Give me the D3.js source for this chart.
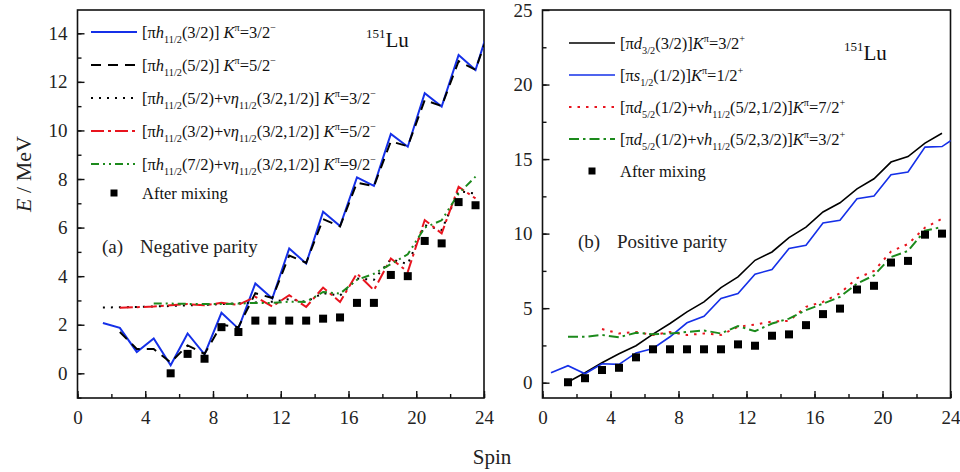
<!DOCTYPE html>
<html>
<head>
<meta charset="utf-8">
<script src="https://cdn.jsdelivr.net/npm/d3@7"></script>
<style>
  body { margin: 0; background: #fff; }
  svg text { font-family: "Liberation Serif", "Tinos", "Times New Roman", "DejaVu Serif", serif; }
</style>
</head>
<body>
<svg id="chart" width="960" height="472"></svg>
<script>
/* 151Lu band energies vs spin, two panels */

// ---- (a) negative parity ----
const negSpinBlue  = [1.5, 2.5, 3.5, 4.5, 5.5, 6.5, 7.5, 8.5, 9.5, 10.5, 11.5, 12.5, 13.5, 14.5, 15.5, 16.5, 17.5, 18.5, 19.5, 20.5, 21.5, 22.5, 23.5, 24.5];
const negBlue      = [2.07, 1.87, 0.88, 1.43, 0.33, 1.64, 0.78, 2.49, 1.84, 3.70, 3.08, 5.14, 4.52, 6.65, 6.06, 8.07, 7.72, 9.86, 9.33, 11.53, 10.98, 13.11, 12.49, 14.7];
const negSpinDash  = [2.5, 3.5, 4.5, 5.5, 6.5, 7.5, 8.5, 9.5, 10.5, 11.5, 12.5, 13.5, 14.5, 15.5, 16.5, 17.5, 18.5, 19.5, 20.5, 21.5, 22.5, 23.5, 24.5];
const negDash      = [1.7, 1.0, 1.0, 0.45, 1.15, 0.8, 2.0, 1.9, 3.3, 3.1, 4.85, 4.55, 6.35, 6.05, 7.85, 7.7, 9.55, 9.35, 11.25, 11.0, 12.85, 12.5, 14.5];
const negSpinDot   = [1.5, 2.5, 3.5, 4.5, 5.5, 6.5, 7.5, 8.5, 9.5, 10.5, 11.5, 12.5, 13.5, 14.5, 15.5, 16.5, 17.5, 18.5, 19.5, 20.5, 21.5, 22.5, 23.5];
const negDot       = [2.71, 2.72, 2.73, 2.75, 2.77, 2.8, 2.82, 2.85, 2.88, 2.92, 2.95, 3.05, 2.95, 3.3, 3.2, 3.9, 3.85, 4.7, 4.5, 6.1, 5.9, 7.5, 7.4];
const negSpinRed   = [2.5, 3.5, 4.5, 5.5, 6.5, 7.5, 8.5, 9.5, 10.5, 11.5, 12.5, 13.5, 14.5, 15.5, 16.5, 17.5, 18.5, 19.5, 20.5, 21.5, 22.5, 23.5];
const negRed       = [2.7, 2.72, 2.75, 2.8, 2.85, 2.8, 2.9, 2.82, 3.15, 2.75, 3.22, 2.73, 3.53, 2.94, 4.11, 3.42, 4.73, 4.18, 6.31, 5.76, 7.68, 7.2];
const negSpinGreen = [4.5, 5.5, 6.5, 7.5, 8.5, 9.5, 10.5, 11.5, 12.5, 13.5, 14.5, 15.5, 16.5, 17.5, 18.5, 19.5, 20.5, 21.5, 22.5, 23.5];
const negGreen     = [2.87, 2.87, 2.86, 2.85, 2.85, 2.87, 2.9, 2.9, 2.95, 2.94, 3.35, 3.28, 3.85, 4.1, 4.5, 4.9, 6.0, 6.3, 7.4, 8.1];
const negSpinMix   = [5.5, 6.5, 7.5, 8.5, 9.5, 10.5, 11.5, 12.5, 13.5, 14.5, 15.5, 16.5, 17.5, 18.5, 19.5, 20.5, 21.5, 22.5, 23.5];
const negMix       = [0.0, 0.8, 0.6, 1.9, 1.7, 2.17, 2.17, 2.17, 2.17, 2.25, 2.3, 2.9, 2.9, 4.05, 4.0, 5.45, 5.35, 7.05, 6.92];

// ---- (b) positive parity ----
const posSpinBlack = [1.5, 2.5, 3.5, 4.5, 5.5, 6.5, 7.5, 8.5, 9.5, 10.5, 11.5, 12.5, 13.5, 14.5, 15.5, 16.5, 17.5, 18.5, 19.5, 20.5, 21.5, 22.5, 23.5];
const posBlack     = [0.05, 0.67, 1.34, 1.94, 2.48, 3.26, 3.97, 4.75, 5.42, 6.38, 7.1, 8.21, 8.77, 9.73, 10.44, 11.45, 12.07, 13.0, 13.68, 14.8, 15.17, 16.07, 16.73];
const posSpinBlue  = [0.5, 1.5, 2.5, 3.5, 4.5, 5.5, 6.5, 7.5, 8.5, 9.5, 10.5, 11.5, 12.5, 13.5, 14.5, 15.5, 16.5, 17.5, 18.5, 19.5, 20.5, 21.5, 22.5, 23.5, 24.5];
const posBlue      = [0.67, 1.14, 0.6, 1.27, 1.23, 2.0, 2.3, 3.08, 4.02, 4.46, 5.65, 5.98, 7.28, 7.59, 9.0, 9.22, 10.71, 10.89, 12.34, 12.52, 13.95, 14.13, 15.8, 15.84, 16.6];
const posSpinRed   = [3.5, 4.5, 5.5, 6.5, 7.5, 8.5, 9.5, 10.5, 11.5, 12.5, 13.5, 14.5, 15.5, 16.5, 17.5, 18.5, 19.5, 20.5, 21.5, 22.5, 23.5];
const posRed       = [3.6, 3.3, 3.4, 3.2, 3.4, 3.2, 3.3, 3.2, 3.75, 3.9, 4.1, 4.15, 5.09, 5.42, 6.0, 7.0, 7.5, 8.8, 9.3, 10.4, 11.0];
const posSpinGreen = [1.5, 2.5, 3.5, 4.5, 5.5, 6.5, 7.5, 8.5, 9.5, 10.5, 11.5, 12.5, 13.5, 14.5, 15.5, 16.5, 17.5, 18.5, 19.5, 20.5, 21.5, 22.5, 23.5];
const posGreen     = [3.08, 3.08, 3.2, 3.05, 3.35, 3.25, 3.3, 3.4, 3.5, 3.3, 3.8, 3.45, 3.97, 4.3, 4.87, 5.3, 5.76, 6.65, 7.2, 8.43, 8.84, 10.2, 10.44];
const posSpinMix   = [1.5, 2.5, 3.5, 4.5, 5.5, 6.5, 7.5, 8.5, 9.5, 10.5, 11.5, 12.5, 13.5, 14.5, 15.5, 16.5, 17.5, 18.5, 19.5, 20.5, 21.5, 22.5, 23.5];
const posMix       = [0.03, 0.3, 0.85, 1.0, 1.7, 2.24, 2.24, 2.24, 2.24, 2.24, 2.57, 2.48, 3.15, 3.24, 3.86, 4.6, 4.97, 6.25, 6.5, 8.06, 8.17, 9.93, 10.0];

const xTicksMajor = [0, 4, 8, 12, 16, 20, 24];
const negYTicks = [0, 2, 4, 6, 8, 10, 12, 14];
const posYTicks = [0, 5, 10, 15, 20, 25];

const BLUE = "#1530e8", RED = "#e8141e", GREEN = "#1c8a1c";

// legend rows: [segments], segment = [text, kind]
const negLegend = [
  [["[π"], ["h", "i"], ["11/2", "sub"], ["(3/2)] "], ["K", "i"], ["π", "sup"], ["=3/2"], ["−", "sup"]],
  [["[π"], ["h", "i"], ["11/2", "sub"], ["(5/2)] "], ["K", "i"], ["π", "sup"], ["=5/2"], ["−", "sup"]],
  [["[π"], ["h", "i"], ["11/2", "sub"], ["(5/2)+ν"], ["η", "i"], ["11/2", "sub"], ["(3/2,1/2)] "], ["K", "i"], ["π", "sup"], ["=3/2"], ["−", "sup"]],
  [["[π"], ["h", "i"], ["11/2", "sub"], ["(3/2)+ν"], ["η", "i"], ["11/2", "sub"], ["(3/2,1/2)] "], ["K", "i"], ["π", "sup"], ["=5/2"], ["−", "sup"]],
  [["[π"], ["h", "i"], ["11/2", "sub"], ["(7/2)+ν"], ["η", "i"], ["11/2", "sub"], ["(3/2,1/2)] "], ["K", "i"], ["π", "sup"], ["=9/2"], ["−", "sup"]],
  [["After mixing"]]
];
const posLegend = [
  [["[π"], ["d", "i"], ["3/2", "sub"], ["(3/2)]"], ["K", "i"], ["π", "sup"], ["=3/2"], ["+", "sup"]],
  [["[π"], ["s", "i"], ["1/2", "sub"], ["(1/2)]"], ["K", "i"], ["π", "sup"], ["=1/2"], ["+", "sup"]],
  [["[π"], ["d", "i"], ["5/2", "sub"], ["(1/2)+ν"], ["h", "i"], ["11/2", "sub"], ["(5/2,1/2)]"], ["K", "i"], ["π", "sup"], ["=7/2"], ["+", "sup"]],
  [["[π"], ["d", "i"], ["5/2", "sub"], ["(1/2)+ν"], ["h", "i"], ["11/2", "sub"], ["(5/2,3/2)]"], ["K", "i"], ["π", "sup"], ["=3/2"], ["+", "sup"]],
  [["After mixing"]]
];

const svg = d3.select("#chart");

function richText(g, x, y, segs, size) {
  const t = g.append("text").attr("x", x).attr("y", y)
      .attr("font-size", size).attr("fill", "#111");
  let shift = 0;
  segs.forEach(([s, kind]) => {
    const sp = t.append("tspan").text(s);
    let target = 0;
    if (kind === "sub") { target = size * 0.32; sp.attr("font-size", size * 0.62); }
    else if (kind === "sup") { target = -size * 0.42; sp.attr("font-size", size * 0.62); }
    else if (kind === "i") { sp.attr("font-style", "italic"); }
    sp.attr("dy", target - shift);
    shift = target;
  });
  return t;
}

function panel(opt) {
  const x = d3.scaleLinear().domain([0, 24]).range(opt.xr);
  const y = d3.scaleLinear().domain(opt.yd).range([397.6, opt.ytop]);
  const g = svg.append("g");

  g.append("clipPath").attr("id", opt.id)
    .append("rect")
      .attr("x", x(0)).attr("y", 10)
      .attr("width", x(24) - x(0)).attr("height", 388);

  // axes: minor + major ticks pointing inward
  g.append("g").attr("transform", `translate(0,398)`)
    .call(d3.axisBottom(x).tickValues(d3.range(0, 25, 2)).tickSize(-4).tickFormat(""))
    .call(a => a.select(".domain").remove());
  g.append("g").attr("transform", `translate(0,398)`)
    .call(d3.axisBottom(x).tickValues(xTicksMajor).tickSize(-7).tickPadding(13))
    .call(a => a.select(".domain").remove());
  g.append("g").attr("transform", `translate(${x(0)},0)`)
    .call(d3.axisLeft(y).tickValues(opt.yMinor).tickSize(-4).tickFormat(""))
    .call(a => a.select(".domain").remove());
  g.append("g").attr("transform", `translate(${x(0)},0)`)
    .call(d3.axisLeft(y).tickValues(opt.yTicks).tickSize(-7).tickPadding(10))
    .call(a => a.select(".domain").remove());
  g.selectAll(".tick line").attr("stroke", "#111").attr("stroke-width", 1.4);
  g.selectAll(".tick text").attr("font-size", 19).attr("fill", "#222");

  g.append("rect")
    .attr("x", x(0)).attr("y", 10)
    .attr("width", x(24) - x(0)).attr("height", 388)
    .attr("fill", "none").attr("stroke", "#111").attr("stroke-width", 1.6);

  const plot = g.append("g").attr("clip-path", `url(#${opt.id})`);
  const line = d3.line().x(d => x(d[0])).y(d => y(d[1]));

  opt.series.forEach(s => {
    plot.append("path")
      .datum(d3.zip(s.spins, s.values))
      .attr("d", line)
      .attr("fill", "none")
      .attr("stroke", s.color)
      .attr("stroke-width", s.width)
      .attr("stroke-dasharray", s.dash);
  });

  plot.selectAll("rect.mix")
    .data(d3.zip(opt.mixSpins, opt.mix))
    .join("rect").attr("class", "mix")
      .attr("x", d => x(d[0]) - 4).attr("y", d => y(d[1]) - 4)
      .attr("width", 8).attr("height", 8).attr("fill", "#000");

  // legend
  const lg = g.append("g");
  opt.legend.forEach((segs, i) => {
    const ly = opt.legY[i];
    const s = opt.series[i];
    if (s) {
      lg.append("line")
        .attr("x1", opt.legX[0]).attr("x2", opt.legX[1])
        .attr("y1", ly).attr("y2", ly)
        .attr("stroke", s.color).attr("stroke-width", s.width)
        .attr("stroke-dasharray", s.dash);
    } else {
      const cx = (opt.legX[0] + opt.legX[1]) / 2;
      lg.append("rect").attr("x", cx - 3.5).attr("y", ly - 3.5)
        .attr("width", 7).attr("height", 7).attr("fill", "#000");
    }
    richText(lg, opt.legX[1] + 5, ly + 5.5, segs, 16.5);
  });

  // nucleus label and panel title
  richText(g, opt.luX, opt.luY, [["151", "sup"], ["Lu"]], 21);
  g.append("text").attr("x", opt.titleX[0]).attr("y", opt.titleY)
    .attr("font-size", 19).attr("fill", "#222").text(opt.tag);
  g.append("text").attr("x", opt.titleX[1]).attr("y", opt.titleY)
    .attr("font-size", 19).attr("fill", "#222").text(opt.title);
}

panel({
  id: "clipNeg", xr: [77.5, 484], yd: [-1, 15], ytop: 9,
  yTicks: negYTicks, yMinor: d3.range(-1, 15, 1),
  series: [
    { spins: negSpinBlue, values: negBlue, color: BLUE, width: 2, dash: null },
    { spins: negSpinDash, values: negDash, color: "#000", width: 2, dash: "10,7" },
    { spins: negSpinDot, values: negDot, color: "#000", width: 2, dash: "2,6" },
    { spins: negSpinRed, values: negRed, color: RED, width: 2, dash: "13,4,3,4" },
    { spins: negSpinGreen, values: negGreen, color: GREEN, width: 2, dash: "8,4,2,4,2,4" }
  ],
  mixSpins: negSpinMix, mix: negMix,
  legend: negLegend, legX: [91, 137], legY: [32, 65, 98, 131, 164, 193],
  luX: 366, luY: 47,
  tag: "(a)", title: "Negative parity", titleX: [102, 140], titleY: 253
});

panel({
  id: "clipPos", xr: [542.5, 950.5], yd: [-1, 25], ytop: 10,
  yTicks: posYTicks, yMinor: d3.range(0, 25, 2.5),
  series: [
    { spins: posSpinBlack, values: posBlack, color: "#000", width: 1.6, dash: null },
    { spins: posSpinBlue, values: posBlue, color: BLUE, width: 1.6, dash: null },
    { spins: posSpinRed, values: posRed, color: RED, width: 2, dash: "2.5,6" },
    { spins: posSpinGreen, values: posGreen, color: GREEN, width: 2, dash: "10,4,2.5,4" }
  ],
  mixSpins: posSpinMix, mix: posMix,
  legend: posLegend, legX: [569, 615], legY: [43, 75, 107, 139, 171],
  luX: 844, luY: 60,
  tag: "(b)", title: "Positive parity", titleX: [578, 617], titleY: 248
});

// axis titles
const yl = svg.append("text")
  .attr("transform", "translate(31,174) rotate(-90)")
  .attr("text-anchor", "middle").attr("font-size", 22).attr("fill", "#222");
yl.append("tspan").attr("font-style", "italic").text("E");
yl.append("tspan").text(" / MeV");

svg.append("text").attr("x", 492).attr("y", 464)
  .attr("text-anchor", "middle").attr("font-size", 21).attr("fill", "#222")
  .text("Spin");
</script>
</body>
</html>
